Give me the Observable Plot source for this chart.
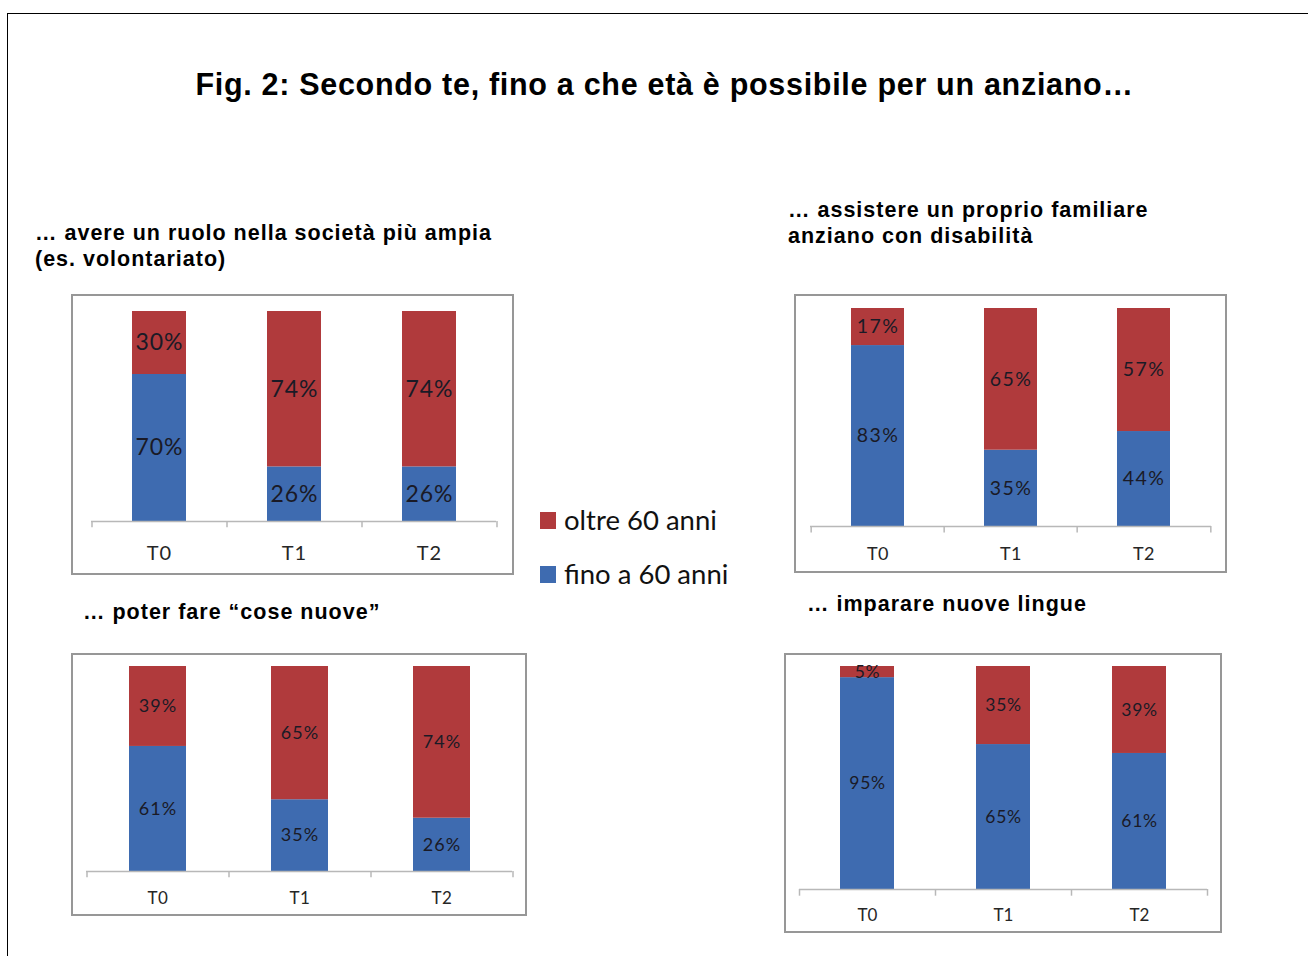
<!DOCTYPE html>
<html><head><meta charset="utf-8">
<script src="https://cdn.jsdelivr.net/npm/d3@7"></script>
<script src="https://cdn.jsdelivr.net/npm/@observablehq/plot@0.6"></script>
<style>
html,body{margin:0;padding:0;background:#fff}
body{width:1308px;height:956px;overflow:hidden;position:relative;font-family:"Liberation Sans",Arial,sans-serif;color:#000}
#frame{position:absolute;left:7px;top:13px;width:1400px;height:1000px;border-top:1px solid #000;border-left:1px solid #000;box-sizing:border-box}
.title{position:absolute;left:0;width:1329px;top:66px;text-align:center;font-weight:bold;font-size:30.5px;letter-spacing:0.7px;line-height:36px;white-space:nowrap}
.sub{position:absolute;font-weight:bold;font-size:21.5px;line-height:26px;letter-spacing:1px;white-space:nowrap}
.panel{position:absolute;border:2px solid #979797;background:#fff;line-height:0}
.panel svg{display:block}
.leg{position:absolute;font-family:Lato,"Open Sans",sans-serif;font-size:27.5px;line-height:30px;white-space:nowrap;display:flex;align-items:center;color:#111}
.leg span.sw{display:inline-block;width:16px;height:17px;margin-right:8px}
</style>
</head><body>
<div id="frame"></div>
<div class="title">Fig. 2: Secondo te, fino a che età è possibile per un anziano…</div>
<div id="root"></div>
<script>
// ---- data ----
const categories = ["T0", "T1", "T2"];
const series = ["fino a 60 anni", "oltre 60 anni"];
const seriesColors = ["#3e6bb0", "#b03a3c"];
const legendOrder = ["oltre 60 anni", "fino a 60 anni"];

const titles = [
  ["… avere un ruolo nella società più ampia", "(es. volontariato)"],
  ["… assistere un proprio familiare", "anziano con disabilità"],
  ["… poter fare “cose nuove”"],
  ["… imparare nuove lingue"]
];
// values per panel: [fino a 60 anni], [oltre 60 anni]
const ruoloFino = [70, 26, 26];
const ruoloOltre = [30, 74, 74];
const assistereFino = [83, 35, 44];
const assistereOltre = [17, 65, 57];
const coseNuoveFino = [61, 35, 26];
const coseNuoveOltre = [39, 65, 74];
const lingueFino = [95, 65, 61];
const lingueOltre = [5, 35, 39];

// ---- layout (positions / styles only) ----
const layouts = [
  {left: 71, top: 294, w: 443, h: 281, ml: 18, mr: 16, mt: 15, mb: 52, fs: 23, ls: 1, tfs: 20, tls: 1, tp: 24, tl: 35, tt: 220},
  {left: 794, top: 294, w: 433, h: 279, ml: 14, mr: 14, mt: 12, mb: 45, fs: 19.5, ls: 1.5, tfs: 18, tls: 0.5, tp: 21, tl: 788, tt: 197},
  {left: 71, top: 653, w: 456, h: 263, ml: 13, mr: 13, mt: 11, mb: 43, fs: 18, ls: 1, tfs: 17, tls: 0.5, tp: 20, tl: 83, tt: 599},
  {left: 784, top: 653, w: 438, h: 280, ml: 13, mr: 13, mt: 11, mb: 42, fs: 17.5, ls: 0.7, tfs: 17, tls: 0, tp: 19, tl: 807, tt: 591}
];
const panelValues = [
  [ruoloFino, ruoloOltre],
  [assistereFino, assistereOltre],
  [coseNuoveFino, coseNuoveOltre],
  [lingueFino, lingueOltre]
];

const root = document.getElementById("root");

function makePanel(cfg, fino, oltre) {
  const data = categories.flatMap((c, i) => [
    {cat: c, serie: series[0], v: fino[i]},
    {cat: c, serie: series[1], v: oltre[i]}
  ]);
  const W = cfg.w - 4, H = cfg.h - 4;
  const step = (W - cfg.ml - cfg.mr) / categories.length;
  const stack = {x: "cat", y: "v", z: "serie", offset: "normalize", order: series};
  const tickStyle = {stroke: "#b8b8b8", strokeWidth: 1.5};
  const svg = Plot.plot({
    width: W, height: H,
    marginLeft: cfg.ml, marginRight: cfg.mr, marginTop: cfg.mt, marginBottom: cfg.mb,
    style: {fontFamily: "Lato, 'Open Sans', sans-serif", background: "#fff", overflow: "visible"},
    x: {domain: categories, paddingInner: 0.6, paddingOuter: 0.3},
    y: {domain: [0, 1], axis: null},
    color: {domain: series, range: seriesColors},
    marks: [
      Plot.barY(data, Plot.stackY({...stack, fill: "serie"})),
      Plot.ruleY([0], tickStyle),
      Plot.ruleX(categories, {x: d => d, y1: 0, y2: -0.03, dx: -step / 2, ...tickStyle}),
      Plot.ruleX(categories.slice(-1), {x: d => d, y1: 0, y2: -0.03, dx: step / 2, ...tickStyle}),
      Plot.text(data, Plot.stackY({...stack, text: d => d.v + "%", fill: "#1a1a26", fontSize: cfg.fs})),
      Plot.axisX({tickSize: 0, tickPadding: cfg.tp, fontSize: cfg.tfs, fill: "#262626", label: null})
    ]
  });
  svg.querySelectorAll('g[aria-label="text"] text').forEach(t => t.style.letterSpacing = cfg.ls + "px");
  svg.querySelectorAll('g[aria-label="x-axis tick label"] text').forEach(t => t.style.letterSpacing = cfg.tls + "px");
  return svg;
}

layouts.forEach((cfg, k) => {
  const box = document.createElement("div");
  box.className = "panel";
  box.style.left = cfg.left + "px";
  box.style.top = cfg.top + "px";
  box.appendChild(makePanel(cfg, panelValues[k][0], panelValues[k][1]));
  root.appendChild(box);

  const t = document.createElement("div");
  t.className = "sub";
  t.style.left = cfg.tl + "px";
  t.style.top = cfg.tt + "px";
  t.innerHTML = titles[k].join("<br>");
  root.appendChild(t);
});

// legend
const legTops = [505, 559];
legendOrder.forEach((s, i) => {
  const d = document.createElement("div");
  d.className = "leg";
  d.style.left = "540px";
  d.style.top = legTops[i] + "px";
  const sw = document.createElement("span");
  sw.className = "sw";
  sw.style.background = seriesColors[series.indexOf(s)];
  d.appendChild(sw);
  d.appendChild(document.createTextNode(s));
  root.appendChild(d);
});
</script>
</body></html>
